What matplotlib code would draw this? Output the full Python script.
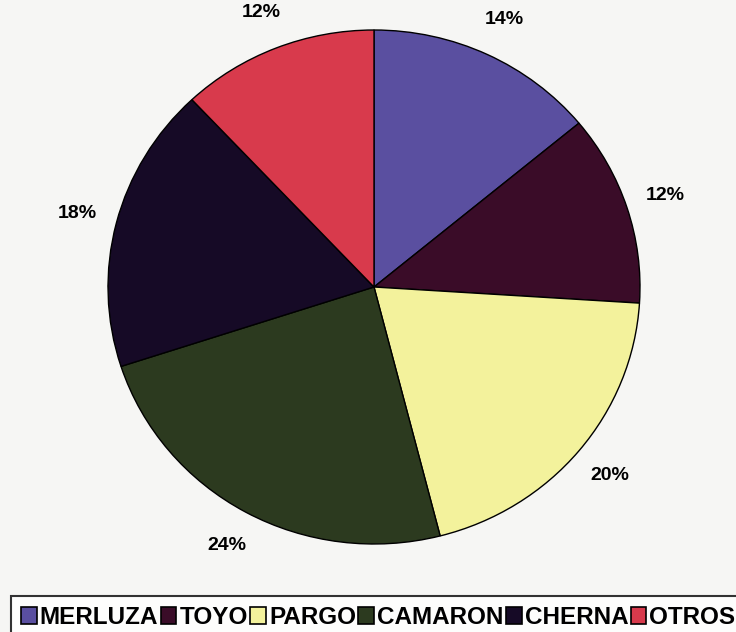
import matplotlib.pyplot as plt
from matplotlib.patches import Patch

species = ['MERLUZA', 'TOYO', 'PARGO', 'CAMARON', 'CHERNA', 'OTROS']
shares = [14, 12, 20, 24, 18, 12]
colors = ['#5a4fa0', '#3a0c28', '#f3f29c', '#2c3a1f', '#160a26', '#d83a4c']

plt.rcParams['font.family'] = ['Liberation Sans', 'DejaVu Sans']

fig = plt.figure(figsize=(7.36, 6.32), dpi=100, facecolor='#f6f6f4')

# pie is slightly wider than tall in the scan
ax = fig.add_axes([108 / 736, 88 / 632, 532 / 736, 514 / 632])
wedges, texts = ax.pie(shares, colors=colors, startangle=90, counterclock=False,
                       labels=[f'{v}%' for v in shares], labeldistance=1.15,
                       wedgeprops=dict(edgecolor='black', linewidth=1.0),
                       textprops=dict(fontsize=14, fontweight='bold'))
for t in texts:
    t.set_ha('center')
    t.set_va('center')
ax.set_aspect('auto')
ax.set_xlim(-1, 1)
ax.set_ylim(-1, 1)
ax.axis('off')

handles = [Patch(facecolor=c, edgecolor='black', linewidth=1.2) for c in colors]
leg = fig.legend(handles, species, loc='lower left', bbox_to_anchor=(4 / 736, -14 / 632),
                 ncol=6, frameon=True, fancybox=False, edgecolor='black',
                 handlelength=0.65, handleheight=0.65, handletextpad=0.12,
                 columnspacing=0.1, borderpad=0.4, borderaxespad=0.3,
                 prop=dict(size=17.5, weight='bold'))
leg.get_frame().set_linewidth(1.5)
leg.get_frame().set_facecolor('white')

fig.savefig('out.png', dpi=100, facecolor=fig.get_facecolor())
